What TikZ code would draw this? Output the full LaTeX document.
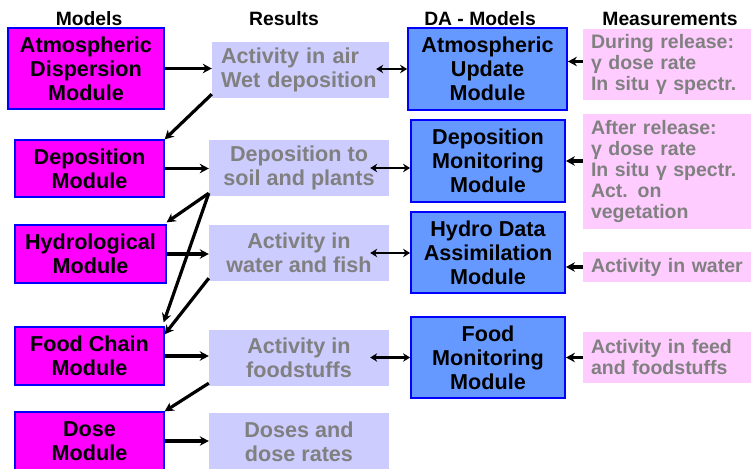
\documentclass[tikz,border=0pt]{standalone}
\usepackage{fontspec}
\setmainfont{Liberation Sans}
\usepackage{tikz}
\usetikzlibrary{arrows.meta}
\definecolor{modmagenta}{RGB}{255,0,255}
\definecolor{resviolet}{RGB}{204,204,255}
\definecolor{dablue}{RGB}{102,153,255}
\definecolor{meapink}{RGB}{255,204,255}
\definecolor{txtgray}{RGB}{128,128,128}

\begin{document}
\begin{tikzpicture}[x=1pt,y=-1pt,
	head/.style={font=\bfseries\fontsize{19.3}{22}\selectfont},
	model/.style={draw=blue,line width=1.3pt,fill=modmagenta,align=center,inner sep=0pt,
		font=\bfseries\fontsize{21.6}{24}\selectfont},
	result/.style={fill=resviolet,text=txtgray,align=center,inner sep=0pt,
		font=\bfseries\fontsize{21.6}{24}\selectfont},
	damodel/.style={draw=blue,line width=1.8pt,fill=dablue,align=center,inner sep=0pt,
		font=\bfseries\fontsize{21.6}{24}\selectfont},
	meas/.style={fill=meapink,text=txtgray,align=left,inner xsep=8pt,inner ysep=0pt,
		text width=152pt,font=\bfseries\fontsize{19.5}{21}\selectfont},
	conn/.style={line width=3.2pt,-{Stealth[length=9pt,width=9.5pt]}},
	biconn/.style={line width=2.6pt,{Stealth[length=7pt,width=8.5pt]}-{Stealth[length=7pt,width=8.5pt]}},
	]
	\useasboundingbox (0,0) rectangle (751,468);
	
	% column headers
	\node[head] (hmod) at (89,19) {Models};
	\node[head] (hres) at (284,19) {Results};
	\node[head] (hda) at (480,19) {DA - Models};
	\node[head] (hmea) at (670,19) {Measurements};
	
	% models
	\node[model,minimum width=156pt,minimum height=81pt] (adm) at (86,68.5) {Atmospheric\\Dispersion\\Module};
	\node[model,minimum width=149pt,minimum height=57pt] (dep) at (89.5,168.5) {Deposition\\Module};
	\node[model,minimum width=151pt,minimum height=58pt] (hyd) at (90.5,254) {Hydrological\\Module};
	\node[model,minimum width=149pt,minimum height=58pt] (food) at (89.5,356) {Food Chain\\Module};
	\node[model,minimum width=149pt,minimum height=58pt] (dose) at (89.5,441) {Dose\\Module};
	
	% results
	\node[result,align=left,inner xsep=9pt,text width=159pt,minimum height=56pt] (rair) at (300.5,70) {Activity in air\\Wet deposition};
	\node[result,minimum width=180pt,minimum height=56pt] (rsoil) at (299,168) {Deposition to\\soil and plants};
	\node[result,minimum width=180pt,minimum height=56pt] (rwater) at (299,253) {Activity in\\water and fish};
	\node[result,minimum width=180pt,minimum height=56pt] (rfood) at (299,358) {Activity in\\foodstuffs};
	\node[result,minimum width=180pt,minimum height=57pt] (rdose) at (299,441.5) {Doses and\\dose rates};
	
	% DA models
	\node[damodel,minimum width=159pt,minimum height=82pt] (aum) at (487.5,69) {Atmospheric\\Update\\Module};
	\node[damodel,minimum width=154pt,minimum height=82pt] (dmm) at (488,161) {Deposition\\Monitoring\\Module};
	\node[damodel,minimum width=154pt,minimum height=81pt] (hdam) at (488,252.5) {Hydro Data\\Assimilation\\Module};
	\node[damodel,minimum width=154pt,minimum height=81pt] (fmm) at (488,357.5) {Food\\Monitoring\\Module};
	
	% measurements
	\node[meas,minimum height=71pt] (mdur) at (667,64.5) {During release:\\γ dose rate\\In situ γ spectr.};
	\node[meas,minimum height=115pt] (maft) at (667,171.5) {After release:\\γ dose rate\\In situ γ spectr.\\Act. on\\vegetation};
	\node[meas,minimum height=30pt] (mwat) at (667,267) {Activity in water};
	\node[meas,minimum height=51pt] (mfeed) at (667,357.5) {Activity in feed\\and foodstuffs};
	
	% models -> results
	\draw[conn] (adm.east) -- (adm.east -| rair.west);
	\draw[conn] (dep.east) -- (dep.east -| rsoil.west);
	\draw[conn] (hyd.east) -- (hyd.east -| rwater.west);
	\draw[conn] (food.east) -- (food.east -| rfood.west);
	\draw[conn] (dose.east) -- (dose.east -| rdose.west);
	
	% results -> models
	\draw[conn] ([yshift=4pt]rair.south west) -- (dep.north east);
	\draw[conn] ([yshift=3pt]rsoil.south west) -- ([yshift=2pt]hyd.north east);
	\draw[conn] ([yshift=3pt]rsoil.south west) -- ([xshift=-1pt,yshift=4pt]food.north east);
	\draw[conn] ([yshift=3pt]rwater.south west) -- ([yshift=-8pt]food.north east);
	\draw[conn] ([yshift=3pt]rfood.south west) -- (dose.north east);
	
	% results <-> DA models
	\draw[biconn] ([xshift=-13pt]rair.east |- aum.west) -- (aum.west);
	\draw[biconn] ([xshift=-19pt]rsoil.east) -- (rsoil.east -| dmm.west);
	\draw[biconn] ([xshift=-19pt]rwater.east) -- (rwater.east -| hdam.west);
	\draw[biconn] ([xshift=-19pt]rfood.east |- fmm.west) -- (fmm.west);
	
	% measurements -> DA models
	\draw[conn] ([yshift=3pt]mdur.west) -- ([yshift=3pt]mdur.west -| aum.east);
	\draw[conn] (dmm.east -| maft.west) -- (dmm.east);
	\draw[conn] (mwat.west) -- (mwat.west -| hdam.east);
	\draw[conn] (mfeed.west |- fmm.east) -- (fmm.east);
\end{tikzpicture}
\end{document}
